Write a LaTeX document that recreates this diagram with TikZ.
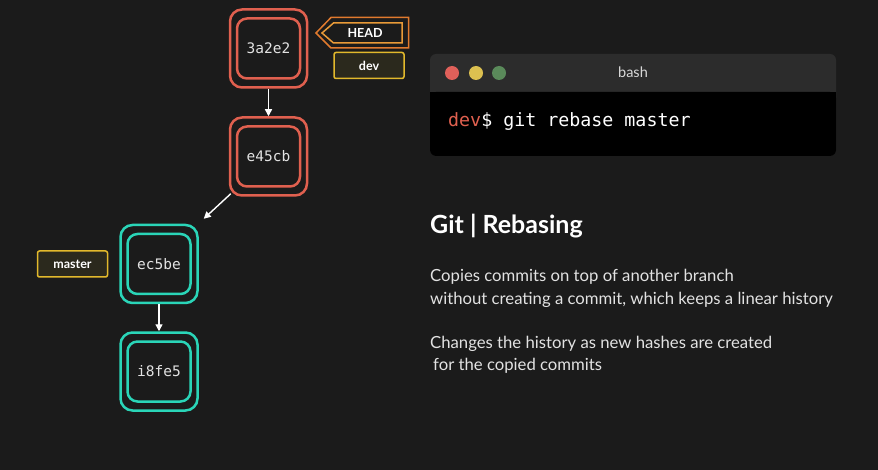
\documentclass[tikz,border=0pt]{standalone}
\usepackage{fontspec}
\setmainfont{Lato}
\newfontfamily\monof{DejaVu Sans Mono}
\usetikzlibrary{arrows.meta,calc}
\definecolor{bg}{HTML}{1B1B1B}
\definecolor{cred}{HTML}{E0604F}
\definecolor{cteal}{HTML}{2AD5B8}
\definecolor{lblfill}{HTML}{2B291D}
\definecolor{lblgold}{HTML}{E2B92C}
\definecolor{headout}{HTML}{E07A2E}
\definecolor{headin}{HTML}{E89A38}
\definecolor{bar}{HTML}{2C2C2C}
\definecolor{dotr}{HTML}{E0605A}
\definecolor{doty}{HTML}{DCC050}
\definecolor{dotg}{HTML}{5A8A5A}
\definecolor{txt}{HTML}{E2E2E2}
\tikzset{
  outerbox/.style={draw, line width=2.5pt, rounded corners=12pt, minimum width=77pt, minimum height=78pt, inner sep=0pt},
  innerbox/.style={draw, line width=2.5pt, rounded corners=10pt, minimum width=63pt, minimum height=60pt, inner sep=0pt, text=txt, font=\monof\fontsize{14.5}{16}\selectfont},
  arr/.style={draw=white, line width=1.4pt, -{Triangle[length=7pt,width=7pt]}},
  lbl/.style={draw=lblgold, fill=lblfill, line width=1.5pt, rounded corners=2pt, minimum width=70pt, minimum height=26pt, inner sep=0pt, text=white, font=\bfseries\fontsize{12.5}{14}\selectfont},
  body/.style={anchor=base west, inner sep=0pt, text=txt, font=\fontsize{16.7}{19}\selectfont}
}
\begin{document}
\begin{tikzpicture}[x=1pt,y=-1pt]
\fill[bg] (0,0) rectangle (878,470);
\useasboundingbox (0,0) rectangle (878,470);

% commits
\node[outerbox, draw=cred] (c1o) at (268.5,48.5) {};
\node[innerbox, draw=cred] (c1) at (268.5,48.5) {3a2e2};
\node[outerbox, draw=cred] (c2o) at (268.5,156.5) {};
\node[innerbox, draw=cred] (c2) at (268.5,156.5) {e45cb};
\node[outerbox, draw=cteal] (c3o) at (159,264) {};
\node[innerbox, draw=cteal] (c3) at (159,264) {ec5be};
\node[outerbox, draw=cteal] (c4o) at (159,371.5) {};
\node[innerbox, draw=cteal] (c4) at (159,371.5) {i8fe5};

\draw[arr] (c1o.south) -- (c2o.north);
\draw[arr] ($(c2o.south west)+(2,-3)$) -- ($(c3o.north east)+(5,-5)$);
\draw[arr] (c3o.south) -- (c4o.north);

% labels
\node[lbl] (dev) at (369,65.5) {dev};
\node[lbl] (master) at (72.5,264) {master};

% HEAD pointer
\draw[headout, line width=1.5pt, fill=bg, line join=miter] (316,33) -- (331,17.5) -- (408.5,17.5) -- (408.5,48) -- (331,48) -- cycle;
\draw[headin, line width=1.5pt, fill=bg, line join=miter] (322,33) -- (333.5,23) -- (402,23) -- (402,43) -- (333.5,43) -- cycle;
\node[inner sep=0pt, text=white, font=\bfseries\fontsize{12.5}{14}\selectfont] (head) at (365,33) {HEAD};

% terminal
\fill[bar, rounded corners=6pt] (430,54) rectangle (836,156);
\fill[black, rounded corners=6pt] (430,92) rectangle (836,156);
\fill[black] (430,92) rectangle (836,110);
\fill[dotr] (452,73) circle (7);
\fill[doty] (476,73) circle (7);
\fill[dotg] (499,73) circle (7);
\node[inner sep=0pt, text=txt!90!gray, font=\fontsize{14.5}{16}\selectfont] (bash) at (633,72) {bash};
\node[anchor=base west, inner sep=0pt, text=white, font=\monof\fontsize{18.3}{20}\selectfont] (cmd) at (448,127) {\textcolor{cred}{dev}\$ git rebase master};

% text
\node[anchor=base west, inner sep=0pt, text=white, font=\bfseries\fontsize{25}{28}\selectfont] (title) at (430,234) {Git | Rebasing};
\node[body] (l1) at (430,282) {Copies commits on top of another branch};
\node[body] (l2) at (430,305) {without creating a commit, which keeps a linear history};
\node[body] (l3) at (430,348) {Changes the history as new hashes are created};
\node[body] (l4) at (430,370) {\hspace{3pt}for the copied commits};
\end{tikzpicture}
\end{document}
